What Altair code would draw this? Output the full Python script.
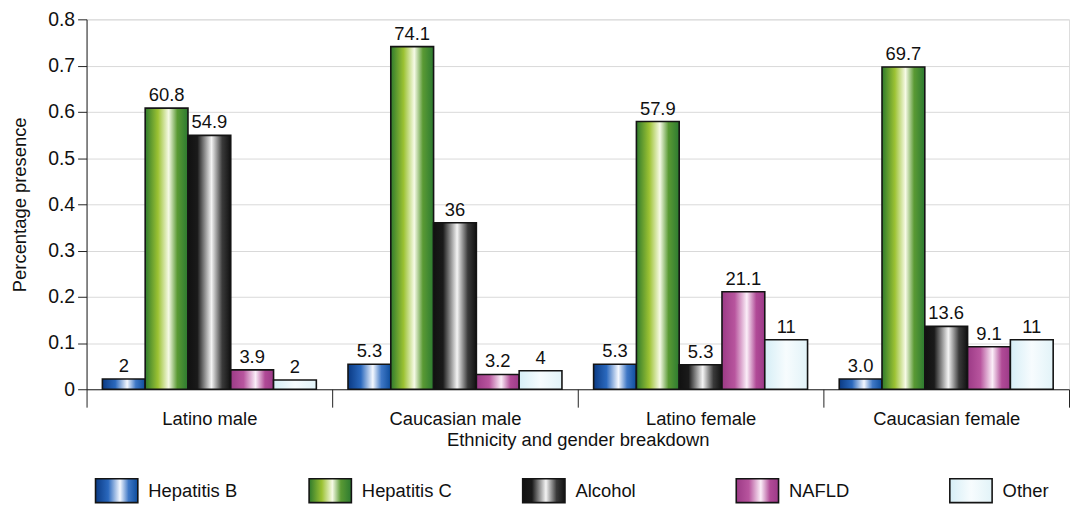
import altair as alt
import pandas as pd

groups = ["Latino male", "Caucasian male", "Latino female", "Caucasian female"]
series = ["Hepatitis B", "Hepatitis C", "Alcohol", "NAFLD", "Other"]

heights = {
    "Hepatitis B": [0.022, 0.054, 0.054, 0.022],
    "Hepatitis C": [0.608, 0.741, 0.579, 0.697],
    "Alcohol": [0.549, 0.360, 0.053, 0.136],
    "NAFLD": [0.042, 0.032, 0.211, 0.092],
    "Other": [0.020, 0.040, 0.107, 0.107],
}
labels = {
    "Hepatitis B": ["2", "5.3", "5.3", "3.0"],
    "Hepatitis C": ["60.8", "74.1", "57.9", "69.7"],
    "Alcohol": ["54.9", "36", "5.3", "13.6"],
    "NAFLD": ["3.9", "3.2", "21.1", "9.1"],
    "Other": ["2", "4", "11", "11"],
}

stops = {
    "Hepatitis B": [(0, "#0a3a84"), (0.3, "#2a68bd"), (0.58, "#f4f8ff"), (0.78, "#3f78c6"), (1, "#0d4c9c")],
    "Hepatitis C": [(0, "#2e7a2c"), (0.3, "#9cc233"), (0.55, "#f6fae6"), (0.75, "#5a9a34"), (1, "#2c7a30")],
    "Alcohol": [(0, "#111111"), (0.22, "#1a1a1a"), (0.55, "#f4f4f4"), (0.8, "#3a3a3a"), (1, "#111111")],
    "NAFLD": [(0, "#9c3a86"), (0.3, "#b8559e"), (0.58, "#fbeef8"), (0.8, "#b04a96"), (1, "#9c3a88")],
    "Other": [(0, "#d6eef6"), (0.5, "#f7fcfe"), (1, "#e2f3f8")],
}

rows = []
for s in series:
    for g, h, l in zip(groups, heights[s], labels[s]):
        rows.append({"group": g, "series": s, "value": h, "label": l})
df = pd.DataFrame(rows)


def grad(s):
    return alt.Gradient(
        gradient="linear", x1=0, y1=0, x2=1, y2=0,
        stops=[alt.GradientStop(offset=o, color=c) for o, c in stops[s]],
    )


FONT = "Liberation Sans"
FS = 18.5

xenc = alt.X(
    "group:N", sort=groups,
    scale=alt.Scale(domain=groups, paddingInner=0, paddingOuter=0),
    axis=alt.Axis(
        title="Ethnicity and gender breakdown", tickBand="extent", labelAngle=0,
        tickSize=18, tickColor="#222", domainColor="#222", labelPadding=2,
        labelFontSize=FS, titleFontSize=FS, titleFontWeight="normal",
        titlePadding=3, labelColor="#111", titleColor="#111", grid=False,
        labelFont=FONT, titleFont=FONT,
    ),
)
xoff = alt.XOffset("series:N", sort=series,
                   scale=alt.Scale(domain=series, paddingOuter=0.37, paddingInner=0))
yenc = alt.Y(
    "value:Q", scale=alt.Scale(domain=[0, 0.8], nice=False),
    axis=alt.Axis(
        title="Percentage presence", values=[0, 0.1, 0.2, 0.3, 0.4, 0.5, 0.6, 0.7, 0.8],
        labelExpr="datum.value == 0 ? '0' : format(datum.value, '.1f')",
        tickSize=9, tickColor="#222", domainColor="#222", gridColor="#d9d9d9",
        labelFontSize=19.5, titleFontSize=FS, titleFontWeight="normal",
        labelColor="#111", titleColor="#111", titlePadding=18, labelPadding=3,
        labelFont=FONT, titleFont=FONT,
    ),
)

layers = []
for s in series:
    layers.append(
        alt.Chart(df).transform_filter(alt.datum.series == s)
        .mark_bar(fill=grad(s), stroke="#141414", strokeWidth=1.6)
        .encode(x=xenc, xOffset=xoff, y=yenc)
    )
text = alt.Chart(df).mark_text(baseline="bottom", dy=-3, fontSize=FS, font=FONT, color="#111").encode(
    x=xenc, xOffset=xoff, y=yenc, text="label:N"
)
main = alt.layer(*layers, text)

# legend drawn below the plot area, sharing the same view
leg_df = pd.DataFrame({"series": series, "idx": list(range(len(series)))})
lx = alt.Scale(domain=[-0.042, 4.558], nice=False, zero=False)
leg_layers = []
for s in series:
    leg_layers.append(
        alt.Chart(leg_df).transform_filter(alt.datum.series == s)
        .transform_calculate(xe="datum.idx + 0.198")
        .mark_rect(fill=grad(s), stroke="#141414", strokeWidth=1.6)
        .encode(x=alt.X("idx:Q", scale=lx, axis=None), x2="xe:Q",
                y=alt.value(462), y2=alt.value(486))
    )
leg_text = (
    alt.Chart(leg_df).transform_calculate(tx="datum.idx + 0.247")
    .mark_text(align="left", baseline="middle", fontSize=FS, font=FONT, color="#111")
    .encode(x=alt.X("tx:Q", scale=lx, axis=None), y=alt.value(474), text="series:N")
)
legend = alt.layer(*leg_layers, leg_text)

chart = (
    alt.layer(main, legend)
    .resolve_scale(x="independent")
    .properties(width=988, height=372,
                padding={"top": 0, "left": 2, "right": 0, "bottom": 0})
    .configure_view(stroke="transparent", strokeWidth=0)
    .configure_axisX(grid=False)
    .configure(font=FONT)
)

chart.save("out.html", embed_options={"renderer": "svg", "actions": False})
